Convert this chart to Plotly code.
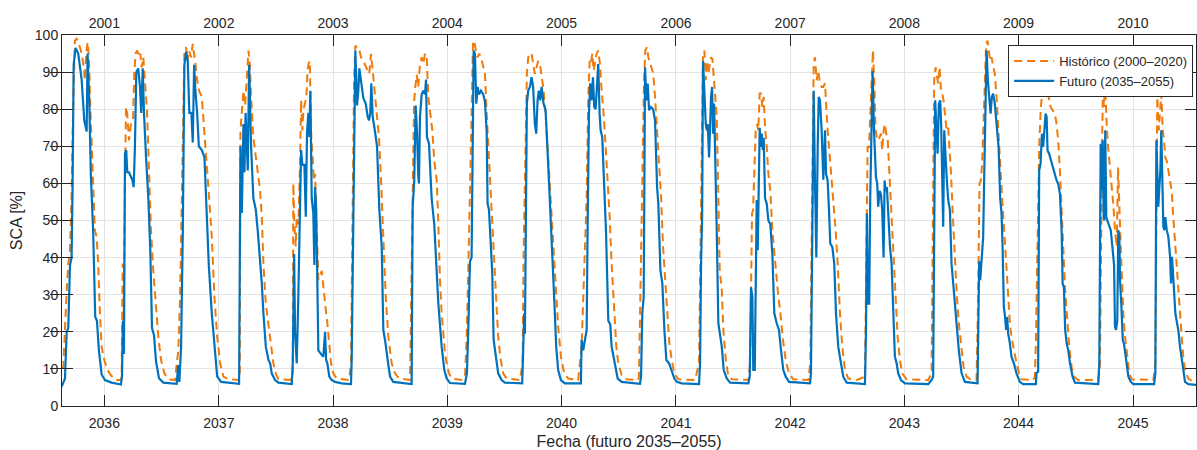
import numpy as np
import pandas as pd
import plotly.graph_objects as go

# ---------------- data (time in decimal years on the future time axis) ----------------
fut_t = [
    2035.626, 2035.640, 2035.655, 2035.670, 2035.684, 2035.699, 2035.713, 2035.722, 2035.731, 2035.748,
    2035.771, 2035.801, 2035.824, 2035.845, 2035.853, 2035.867, 2035.882, 2035.902, 2035.920, 2035.935,
    2035.952, 2035.976, 2036.005, 2036.063, 2036.145,
    2036.154, 2036.162, 2036.171, 2036.180, 2036.191, 2036.200, 2036.215, 2036.244, 2036.256, 2036.267,
    2036.279, 2036.296, 2036.311, 2036.322, 2036.335, 2036.346, 2036.364, 2036.384, 2036.401, 2036.416,
    2036.434, 2036.451, 2036.477, 2036.515, 2036.632,
    2036.644, 2036.655, 2036.670, 2036.685, 2036.699, 2036.714, 2036.728, 2036.742, 2036.760, 2036.772,
    2036.784, 2036.795, 2036.810, 2036.825, 2036.851, 2036.874, 2036.895, 2036.912, 2036.938, 2036.961,
    2036.985, 2037.020, 2037.177,
    2037.189, 2037.201, 2037.215, 2037.224, 2037.234, 2037.245, 2037.253, 2037.265, 2037.282, 2037.302,
    2037.323, 2037.341, 2037.361, 2037.376, 2037.390, 2037.411, 2037.434, 2037.449, 2037.463, 2037.492,
    2037.521, 2037.638,
    2037.647, 2037.659, 2037.667, 2037.682, 2037.696, 2037.711, 2037.720, 2037.731, 2037.749, 2037.761,
    2037.772, 2037.784, 2037.792, 2037.801, 2037.813, 2037.827, 2037.836, 2037.842, 2037.851, 2037.860,
    2037.871, 2037.895, 2037.915, 2037.930, 2037.939, 2037.950, 2037.967, 2037.988, 2038.017, 2038.076,
    2038.157,
    2038.163, 2038.175, 2038.186, 2038.195, 2038.210, 2038.221, 2038.230, 2038.245, 2038.265, 2038.286,
    2038.303, 2038.315, 2038.326, 2038.335, 2038.347, 2038.367, 2038.385, 2038.405, 2038.426, 2038.440,
    2038.455, 2038.478, 2038.499, 2038.527, 2038.688,
    2038.697, 2038.711, 2038.723, 2038.735, 2038.746, 2038.752, 2038.761, 2038.776, 2038.790, 2038.805,
    2038.814, 2038.822, 2038.840, 2038.863, 2038.886, 2038.907, 2038.921, 2038.951, 2038.974, 2038.995,
    2039.024, 2039.155,
    2039.161, 2039.172, 2039.184, 2039.199, 2039.213, 2039.222, 2039.231, 2039.242, 2039.254, 2039.266,
    2039.277, 2039.295, 2039.315, 2039.330, 2039.345, 2039.353, 2039.365, 2039.382, 2039.394, 2039.406,
    2039.423, 2039.446, 2039.476, 2039.505, 2039.656,
    2039.665, 2039.674, 2039.680, 2039.689, 2039.697, 2039.709, 2039.724, 2039.738, 2039.752, 2039.767,
    2039.779, 2039.791, 2039.802, 2039.814, 2039.826, 2039.843, 2039.861, 2039.884, 2039.905, 2039.919,
    2039.936, 2039.954, 2039.971, 2039.995, 2040.030, 2040.170,
    2040.176, 2040.190, 2040.205, 2040.220, 2040.228, 2040.240, 2040.251, 2040.263, 2040.275, 2040.286,
    2040.298, 2040.310, 2040.321, 2040.333, 2040.342, 2040.356, 2040.371, 2040.389, 2040.409, 2040.426,
    2040.438, 2040.467, 2040.491, 2040.526, 2040.686,
    2040.695, 2040.706, 2040.718, 2040.730, 2040.741, 2040.753, 2040.765, 2040.782, 2040.800, 2040.817,
    2040.835, 2040.846, 2040.864, 2040.881, 2040.899, 2040.916, 2040.940, 2040.963, 2040.986, 2041.007,
    2041.051, 2041.202,
    2041.211, 2041.220, 2041.229, 2041.237, 2041.249, 2041.261, 2041.270, 2041.278, 2041.290, 2041.299,
    2041.307, 2041.316, 2041.325, 2041.334, 2041.342, 2041.357, 2041.371, 2041.386, 2041.401, 2041.418,
    2041.445, 2041.474, 2041.634,
    2041.646, 2041.657, 2041.669, 2041.677, 2041.690, 2041.698, 2041.707, 2041.716, 2041.725, 2041.733,
    2041.742, 2041.751, 2041.760, 2041.768, 2041.780, 2041.795, 2041.809, 2041.826, 2041.844, 2041.861,
    2041.882, 2041.902, 2041.920, 2041.940, 2041.961, 2041.990, 2042.174,
    2042.182, 2042.194, 2042.206, 2042.217, 2042.229, 2042.241, 2042.250, 2042.261, 2042.276, 2042.290,
    2042.305, 2042.314, 2042.328, 2042.340, 2042.351, 2042.369, 2042.386, 2042.401, 2042.421, 2042.445,
    2042.465, 2042.495, 2042.655,
    2042.664, 2042.672, 2042.681, 2042.692, 2042.701, 2042.713, 2042.722, 2042.734, 2042.742, 2042.751,
    2042.762, 2042.771, 2042.783, 2042.795, 2042.806, 2042.818, 2042.827, 2042.836, 2042.847, 2042.859,
    2042.874, 2042.888, 2042.902, 2042.917, 2042.932, 2042.946, 2042.970, 2043.005, 2043.209, 2043.224,
    2043.238,
    2043.252, 2043.261, 2043.270, 2043.279, 2043.291, 2043.302, 2043.314, 2043.322, 2043.331, 2043.340,
    2043.349, 2043.361, 2043.372, 2043.384, 2043.399, 2043.413, 2043.436, 2043.457, 2043.477, 2043.501,
    2043.530, 2043.641,
    2043.646, 2043.655, 2043.664, 2043.676, 2043.690, 2043.699, 2043.711, 2043.720, 2043.731, 2043.742,
    2043.755, 2043.766, 2043.777, 2043.792, 2043.810, 2043.825, 2043.839, 2043.851, 2043.860, 2043.871,
    2043.882, 2043.891, 2043.900, 2043.909, 2043.924, 2043.938, 2043.959, 2043.982, 2044.011, 2044.040,
    2044.151,
    2044.157, 2044.171, 2044.180, 2044.192, 2044.204, 2044.215, 2044.224, 2044.236, 2044.245, 2044.253,
    2044.267, 2044.282, 2044.297, 2044.317, 2044.332, 2044.346, 2044.361, 2044.376, 2044.385, 2044.396,
    2044.407, 2044.420, 2044.434, 2044.449, 2044.472, 2044.492, 2044.696,
    2044.705, 2044.717, 2044.726, 2044.735, 2044.743, 2044.749, 2044.757, 2044.766, 2044.775, 2044.787,
    2044.805, 2044.819, 2044.834, 2044.842, 2044.851, 2044.862, 2044.871, 2044.880, 2044.886, 2044.897,
    2044.910, 2044.921, 2044.939, 2044.959, 2044.980, 2045.002, 2045.184,
    2045.195, 2045.204, 2045.212, 2045.221, 2045.230, 2045.239, 2045.247, 2045.256, 2045.265, 2045.274,
    2045.282, 2045.295, 2045.309, 2045.324, 2045.332, 2045.341, 2045.350, 2045.359, 2045.370, 2045.382,
    2045.396, 2045.411, 2045.426, 2045.440, 2045.455, 2045.484, 2045.557,
]
fut_v = [
    5.2, 6.5, 7.4, 20, 21, 38, 40, 60, 92, 96.5,
    95, 88, 77, 74, 95, 83, 62, 47, 24, 23,
    15, 8.5, 7, 6.3, 5.8,
    8, 23, 14, 68, 69, 63, 63, 61, 59, 70,
    90, 91, 86, 79, 91, 79, 67, 56, 42, 21,
    19, 12, 7.5, 6.3, 6.0,
    11, 6.5, 16, 47, 92, 95.5, 93, 79, 79, 71,
    92, 85, 79, 70, 69, 67, 52, 38, 25, 16,
    8, 6.5, 6.0,
    70, 52, 76, 63, 79, 71.6, 63.5, 92, 70, 56,
    53, 47, 40, 33, 25, 16, 12.4, 11.5, 8.8, 7,
    6.3, 5.9,
    11.5, 41, 20, 11.5, 30, 56, 69, 65, 65, 51,
    74, 79, 72.5, 85, 56, 52, 38, 59, 54, 38,
    15, 14, 13.3, 20, 12.4, 11.5, 7.9, 7, 6.5, 6.1,
    5.9,
    12.4, 43, 74, 95.8, 81, 85, 91, 88, 83, 81.5,
    78, 77, 79, 87, 78, 74, 70, 53, 43, 20.5,
    17.8, 12.4, 7.9, 6.5, 5.9,
    53.6, 61, 81, 74, 62, 60, 78, 84, 85, 84,
    88, 72.5, 70.7, 56, 49, 38, 28, 16, 9.7, 7.4,
    6.2, 6.0,
    7.4, 8.8, 20.5, 39, 40, 74, 95.8, 95, 81.5, 86,
    84, 85, 84, 82, 74, 54.5, 53, 43, 35.7, 17.8,
    14, 8.8, 7, 6.3, 6.1,
    20.5, 25, 19.5, 61, 81.5, 85, 86, 88.6, 86, 76,
    73.4, 82.4, 85, 82.4, 86, 81.5, 79.7, 65, 52, 43,
    29.4, 16, 9.7, 7, 6.1, 6.1,
    17.8, 15, 17.8, 20.5, 47, 78.8, 87, 82.4, 88.6, 80.6,
    80, 87.8, 92.2, 78.8, 74.3, 72.5, 61, 47, 23, 22,
    16, 11.5, 7.4, 6.5, 6.0,
    7.9, 25, 29.4, 91.3, 82.4, 86.9, 79.7, 80.6, 80, 77,
    59, 54.5, 36.6, 33, 20.5, 12.4, 11.5, 9.2, 7.4, 6.5,
    6.1, 5.9,
    11.5, 39, 51, 93, 83.3, 76, 74.3, 76, 67, 76,
    83.3, 86, 73.4, 81.5, 65, 47, 22.3, 19.5, 16, 9.7,
    7.4, 6.3, 6.1,
    7.9, 32, 29.4, 9.7, 9.7, 40, 55.5, 42, 62.6, 75,
    69.8, 73.4, 69, 72.3, 56, 54.5, 50, 49, 41, 25,
    22.3, 20.5, 15, 9.7, 7.9, 6.5, 6.1,
    8.8, 47, 85, 61, 40, 69.8, 83.3, 82.4, 74, 61,
    74.3, 62.6, 60.8, 52.8, 43.8, 42.9, 38.4, 25, 16, 11.5,
    7.9, 6.3, 5.9,
    20.5, 51.9, 27.6, 27.6, 56.3, 81.5, 90.3, 74.3, 65.3, 61.7,
    60, 53.7, 58, 57, 52.8, 40, 60.8, 58, 59, 51,
    43, 38.4, 26.7, 13.3, 11.5, 8.8, 7, 6.1, 5.9, 6.5,
    7,
    7.9, 47.4, 82.4, 76, 68, 81.5, 82.4, 76, 65.3, 48.3,
    74.3, 65.3, 60.8, 55.5, 52.8, 38.4, 29.4, 20.5, 15, 8.8,
    6.5, 6.1,
    20.5, 39, 33.9, 40, 45.5, 61.7, 87.8, 95.8, 87.8, 83.3,
    78.8, 83.3, 84.2, 81.5, 76, 69.8, 56, 51.9, 42.9, 26.7,
    24, 20.5, 24, 19.5, 16.9, 13.3, 11.5, 8.8, 6.5, 5.9,
    5.9,
    9, 9.2, 63.5, 65.3, 73.4, 69.8, 74.3, 78.8, 77.9, 68.9,
    68, 66.2, 64.4, 62.6, 60.8, 59.9, 57.2, 47.4, 33, 32,
    20.5, 16.9, 15, 11.5, 7.9, 6.3, 5.9,
    11.5, 70.7, 58, 71.6, 51, 50, 74.3, 51, 50, 49,
    47.4, 43, 38, 21.4, 20.5, 23, 47.4, 45.6, 33.9, 27.6,
    17.8, 16.7, 12.4, 7.9, 6.5, 5.9, 5.9,
    8.8, 71.6, 65.3, 53.7, 59, 63.5, 74.3, 63.5, 48.3, 47.4,
    50.9, 47.4, 45.6, 40.2, 33, 40.2, 33, 31, 25, 23,
    20.5, 16, 12.4, 8.8, 6.5, 5.9, 5.7,
]

hist_t = [
    2035.631, 2035.640, 2035.670, 2035.684, 2035.699, 2035.713, 2035.722, 2035.734, 2035.742, 2035.757,
    2035.777, 2035.801, 2035.815, 2035.830, 2035.841, 2035.853, 2035.865, 2035.876, 2035.888, 2035.902,
    2035.917, 2035.932, 2035.946, 2035.961, 2035.976, 2035.999, 2036.028, 2036.057, 2036.107, 2036.145,
    2036.151, 2036.160, 2036.168, 2036.180, 2036.189, 2036.200, 2036.215, 2036.232, 2036.250, 2036.261,
    2036.273, 2036.287, 2036.302, 2036.314, 2036.326, 2036.340, 2036.355, 2036.372, 2036.390, 2036.407,
    2036.427, 2036.448, 2036.471, 2036.495, 2036.524, 2036.559, 2036.617,
    2036.632, 2036.646, 2036.661, 2036.676, 2036.687, 2036.699, 2036.714, 2036.725, 2036.740, 2036.757,
    2036.772, 2036.784, 2036.795, 2036.810, 2036.827, 2036.851, 2036.874, 2036.895, 2036.915, 2036.938,
    2036.961, 2036.985, 2037.011, 2037.040, 2037.084, 2037.171,
    2037.183, 2037.189, 2037.201, 2037.215, 2037.230, 2037.245, 2037.259, 2037.271, 2037.282, 2037.302,
    2037.323, 2037.341, 2037.361, 2037.376, 2037.390, 2037.411, 2037.434, 2037.457, 2037.477, 2037.498,
    2037.521, 2037.624,
    2037.647, 2037.652, 2037.661, 2037.673, 2037.682, 2037.696, 2037.711, 2037.720, 2037.731, 2037.740,
    2037.755, 2037.766, 2037.775, 2037.784, 2037.796, 2037.807, 2037.819, 2037.831, 2037.842, 2037.857,
    2037.871, 2037.901, 2037.921, 2037.936, 2037.950, 2037.965, 2037.982, 2038.002, 2038.032, 2038.140,
    2038.157, 2038.166, 2038.175, 2038.184, 2038.195, 2038.210, 2038.227, 2038.245, 2038.265, 2038.286,
    2038.303, 2038.317, 2038.332, 2038.347, 2038.361, 2038.382, 2038.402, 2038.420, 2038.440, 2038.461,
    2038.484, 2038.513, 2038.542, 2038.577, 2038.674,
    2038.688, 2038.697, 2038.709, 2038.720, 2038.732, 2038.746, 2038.761, 2038.776, 2038.790, 2038.805,
    2038.820, 2038.834, 2038.851, 2038.869, 2038.886, 2038.907, 2038.921, 2038.927, 2038.936, 2038.951,
    2038.965, 2038.980, 2038.995, 2039.015, 2039.038, 2039.126,
    2039.155, 2039.170, 2039.184, 2039.199, 2039.213, 2039.225, 2039.236, 2039.251, 2039.266, 2039.280,
    2039.295, 2039.310, 2039.330, 2039.345, 2039.359, 2039.374, 2039.388, 2039.402, 2039.417, 2039.432,
    2039.446, 2039.464, 2039.490, 2039.520, 2039.636,
    2039.660, 2039.668, 2039.677, 2039.686, 2039.697, 2039.709, 2039.724, 2039.738, 2039.752, 2039.767,
    2039.782, 2039.796, 2039.811, 2039.826, 2039.840, 2039.861, 2039.884, 2039.905, 2039.927, 2039.948,
    2039.971, 2039.995, 2040.024, 2040.059, 2040.146,
    2040.176, 2040.190, 2040.205, 2040.220, 2040.234, 2040.246, 2040.257, 2040.269, 2040.281, 2040.292,
    2040.307, 2040.321, 2040.336, 2040.351, 2040.368, 2040.386, 2040.403, 2040.421, 2040.438, 2040.459,
    2040.479, 2040.496, 2040.526, 2040.570, 2040.669,
    2040.677, 2040.689, 2040.701, 2040.710, 2040.721, 2040.732, 2040.745, 2040.759, 2040.774, 2040.802,
    2040.817, 2040.835, 2040.852, 2040.870, 2040.887, 2040.905, 2040.925, 2040.942, 2040.963, 2040.986,
    2041.021, 2041.167,
    2041.202, 2041.214, 2041.226, 2041.237, 2041.249, 2041.261, 2041.272, 2041.284, 2041.296, 2041.307,
    2041.319, 2041.331, 2041.342, 2041.357, 2041.371, 2041.383, 2041.401, 2041.415, 2041.436, 2041.459,
    2041.488, 2041.634,
    2041.649, 2041.657, 2041.666, 2041.675, 2041.686, 2041.698, 2041.710, 2041.721, 2041.733, 2041.745,
    2041.756, 2041.768, 2041.780, 2041.795, 2041.809, 2041.826, 2041.844, 2041.867, 2041.891, 2041.914,
    2041.937, 2041.961, 2041.990, 2042.027, 2042.159,
    2042.176, 2042.188, 2042.197, 2042.206, 2042.217, 2042.232, 2042.246, 2042.261, 2042.276, 2042.290,
    2042.305, 2042.316, 2042.328, 2042.340, 2042.357, 2042.377, 2042.398, 2042.416, 2042.436, 2042.456,
    2042.480, 2042.509, 2042.582,
    2042.655, 2042.666, 2042.678, 2042.690, 2042.701, 2042.713, 2042.725, 2042.736, 2042.748, 2042.760,
    2042.771, 2042.783, 2042.795, 2042.806, 2042.818, 2042.830, 2042.841, 2042.853, 2042.865, 2042.876,
    2042.888, 2042.906, 2042.923, 2042.941, 2042.961, 2042.981, 2043.020, 2043.209,
    2043.238, 2043.250, 2043.261, 2043.273, 2043.285, 2043.296, 2043.308, 2043.320, 2043.331, 2043.343,
    2043.355, 2043.370, 2043.384, 2043.396, 2043.407, 2043.425, 2043.442, 2043.460, 2043.477, 2043.501,
    2043.518, 2043.545, 2043.588, 2043.632,
    2043.646, 2043.658, 2043.670, 2043.681, 2043.693, 2043.705, 2043.716, 2043.728, 2043.740, 2043.751,
    2043.763, 2043.777, 2043.792, 2043.807, 2043.821, 2043.839, 2043.856, 2043.874, 2043.886, 2043.895,
    2043.909, 2043.924, 2043.938, 2043.959, 2043.982, 2044.005, 2044.026, 2044.127,
    2044.142, 2044.151, 2044.162, 2044.171, 2044.180, 2044.192, 2044.204, 2044.215, 2044.227, 2044.239,
    2044.250, 2044.262, 2044.280, 2044.297, 2044.317, 2044.332, 2044.346, 2044.361, 2044.376, 2044.390,
    2044.407, 2044.425, 2044.442, 2044.463, 2044.484, 2044.521, 2044.696,
    2044.711, 2044.720, 2044.729, 2044.737, 2044.746, 2044.755, 2044.764, 2044.772, 2044.784, 2044.799,
    2044.816, 2044.827, 2044.842, 2044.857, 2044.869, 2044.880, 2044.892, 2044.904, 2044.915, 2044.930,
    2044.945, 2044.967, 2044.988, 2045.177,
    2045.195, 2045.204, 2045.212, 2045.225, 2045.236, 2045.247, 2045.260, 2045.271, 2045.282, 2045.295,
    2045.309, 2045.324, 2045.338, 2045.352, 2045.367, 2045.382, 2045.396, 2045.411, 2045.426, 2045.440,
    2045.455, 2045.484, 2045.513,
]
hist_v = [
    10.1, 10.5, 31, 38.4, 42, 56.3, 74.3, 92.2, 98.5, 99,
    97.6, 95, 92.2, 87.8, 95, 98, 94, 81.5, 70, 56.3,
    47.4, 45.6, 38.4, 25, 16, 12.4, 9.7, 8.3, 7, 7,
    7.9, 38.4, 22, 60.8, 80.6, 78.8, 71.6, 76, 77, 89.5,
    95, 95.8, 94, 95, 91.3, 94, 86.9, 79.7, 63.5, 47.4,
    36.6, 26.7, 18.7, 12.4, 8.8, 7.2, 7,
    11.5, 15, 29, 60.8, 83.3, 95.8, 96.7, 93, 95.8, 94,
    97.6, 95, 92.2, 87.8, 85, 83.3, 74.3, 65.3, 56, 45.6,
    29.4, 18.7, 11.5, 7.9, 7.2, 7,
    7.9, 74.3, 80.6, 85, 81, 88, 95.8, 92.2, 83.3, 72.5,
    67, 63.5, 58, 51, 38.4, 27.6, 22.3, 16, 11.5, 8.8,
    7.2, 7,
    8, 60, 49, 43, 51, 49, 65.3, 82.4, 74.3, 79.7,
    81.5, 83.3, 89.5, 92.2, 93, 74.3, 68, 60.8, 62.6, 47.4,
    34, 36.4, 29.4, 25.9, 22.3, 16.9, 11.5, 8.8, 7.4, 7,
    11.5, 38.4, 65.3, 87.8, 97.2, 96.3, 96.3, 94, 93, 91.3,
    90.4, 89.5, 94.9, 90.4, 86, 78.8, 72.5, 60.8, 47.4, 29.4,
    18.7, 11.5, 8.8, 7.4, 7,
    33.9, 56, 81.5, 86, 89.3, 86, 92.2, 94, 92.2, 95,
    94, 83.3, 79, 74.3, 66, 61, 50, 43, 34, 25,
    18.7, 14.2, 11.5, 8.8, 7.4, 7,
    7.9, 18.7, 36.6, 54.5, 78.8, 97.6, 98.5, 95.8, 94, 95,
    94, 92.2, 89.5, 78.8, 69.8, 60.8, 53.7, 45.6, 35.7, 26.7,
    18.7, 13.3, 8.8, 7.4, 7,
    11.5, 40.2, 56, 74.3, 89.5, 94, 95, 95, 92.2, 89.5,
    91.3, 93, 92.2, 89.5, 86, 78.8, 67, 54.5, 43, 31.2,
    21.4, 13.3, 8.8, 7.4, 7,
    16, 29.4, 38.4, 56.3, 83.3, 93, 92.2, 95, 90.4, 93,
    95, 95.8, 92.2, 85, 78.8, 69.8, 60.8, 51, 38.4, 25,
    16, 11.5, 8.3, 7.2, 7,
    7.9, 29.4, 47.4, 69.8, 87.8, 95.8, 96.7, 94, 92.2, 89.5,
    83.3, 74.3, 63.5, 56.3, 43, 33.9, 22.3, 16.9, 12.4, 8.8,
    7.2, 7,
    11.5, 38.4, 74.3, 95, 95.8, 87.8, 93, 89.5, 92.2, 94,
    93.5, 87.8, 83.3, 78, 56.3, 36.6, 31.2, 20.5, 12.4, 7.9,
    7.2, 7,
    11.5, 40.2, 51.9, 52.8, 63.5, 74.3, 76, 74.3, 84.2, 84.2,
    80.6, 83.3, 75, 69.8, 62.6, 58, 47.4, 38.4, 31.2, 25,
    17.8, 12.4, 8.8, 7.2, 7,
    11.5, 47.4, 74.3, 92.2, 94, 87.8, 90.4, 86.9, 86, 86,
    87, 79.7, 74.3, 69.8, 63.5, 56.3, 47.4, 38.4, 25, 16,
    9.7, 7.4, 7,
    7.9, 45.6, 69.8, 69.8, 78.8, 87.8, 95.8, 87.8, 74.3, 72.5,
    71.6, 72.5, 73.4, 68.9, 74.3, 76, 73.4, 72.5, 65.3, 58,
    49, 38.4, 27.6, 18.7, 12.4, 8.8, 7.2, 7,
    8.8, 47.4, 87.8, 91.3, 89.5, 86.9, 91.3, 85.6, 84.2, 82.4,
    78.8, 74.3, 75, 69.8, 63.5, 51, 38.4, 29.4, 22.3, 15,
    10.6, 7.9, 7, 7,
    29.4, 60, 60.8, 65.3, 78, 92.2, 97.6, 98.5, 95.8, 93,
    94, 92.2, 89.5, 83.3, 74.3, 65.3, 56.3, 47.4, 42, 38.4,
    29.4, 22.3, 18.7, 15, 11.5, 8.8, 7.2, 7,
    7.9, 16.9, 38.4, 56.3, 69.8, 78.8, 84.2, 84.2, 85, 84.2,
    85, 83.3, 80.6, 79.7, 78.8, 76, 71.6, 63.5, 54.5, 42.9,
    31.2, 22.3, 16, 10.6, 7.9, 7, 7,
    11.5, 47.4, 69.8, 85, 80.6, 86.9, 78.8, 74.3, 69, 64.3,
    58, 54.5, 47.4, 43, 64.3, 56.3, 42.9, 33.9, 25, 18.7,
    14.2, 8.8, 7.2, 7,
    11.5, 56.3, 83.3, 74.3, 78.8, 84.2, 74.3, 71.6, 67, 66,
    63.5, 60, 58, 51, 43.8, 38.4, 31.2, 25, 18.7, 13.3,
    9.7, 7.4, 6.8,
]

bottom_years = [2036, 2037, 2038, 2039, 2040, 2041, 2042, 2043, 2044, 2045]
top_labels = ["2001", "2002", "2003", "2004", "2005", "2006", "2007", "2008", "2009", "2010"]
x_limits = [2035.629, 2045.551]
y_ticks = [0, 10, 20, 30, 40, 50, 60, 70, 80, 90, 100]


def dec_to_dt(t):
    y = int(np.floor(t))
    start = pd.Timestamp(year=y, month=1, day=1)
    end = pd.Timestamp(year=y + 1, month=1, day=1)
    return start + (t - y) * (end - start)


fut_x = [dec_to_dt(t) for t in fut_t]
hist_x = [dec_to_dt(t) for t in hist_t]
xr = [dec_to_dt(t) for t in x_limits]
tick_dates = [pd.Timestamp(year=y, month=1, day=1) for y in bottom_years]

BLUE = "#0072BD"
ORANGE = "#F07A0A"
AX = "#262626"
GRID = "#e3e3e3"
FONT = "Liberation Sans, Arial, Helvetica, sans-serif"

fig = go.Figure()
fig.add_trace(go.Scatter(x=hist_x, y=hist_v, mode="lines", name="Histórico (2000–2020)",
                         line=dict(color=ORANGE, width=2, dash="8px,5px")))
fig.add_trace(go.Scatter(x=fut_x, y=fut_v, mode="lines", name="Futuro (2035–2055)",
                         line=dict(color=BLUE, width=2.2)))
# empty trace that only anchors the top (historical-years) axis
fig.add_trace(go.Scatter(x=xr, y=[None, None], xaxis="x2", yaxis="y", mode="lines",
                         showlegend=False, hoverinfo="skip"))

fig.update_layout(
    width=1197, height=450,
    margin=dict(l=62, r=1, t=35, b=44),
    paper_bgcolor="white", plot_bgcolor="white",
    font=dict(family=FONT, size=14, color=AX),
    showlegend=True,
    legend=dict(x=0.9975, y=0.973, xanchor="right", yanchor="top",
                bgcolor="white", bordercolor=AX, borderwidth=1,
                font=dict(size=13, color=AX), tracegroupgap=0,
                itemwidth=40),
    xaxis=dict(type="date", range=xr, tickvals=tick_dates, ticktext=[str(y) for y in bottom_years],
               ticks="inside", ticklen=11, tickwidth=1, tickcolor=AX, ticklabelstandoff=4,
               showline=True, linecolor=AX, linewidth=1, mirror=True,
               showgrid=True, gridcolor=GRID, gridwidth=1, zeroline=False,
               title=dict(text="Fecha (futuro 2035–2055)", font=dict(size=16), standoff=8),
               tickfont=dict(size=14)),
    xaxis2=dict(type="date", range=xr, overlaying="x", side="top", anchor="y",
                tickvals=tick_dates, ticktext=top_labels, ticklabelstandoff=3,
                ticks="inside", ticklen=11, tickwidth=1, tickcolor=AX,
                showline=False, showgrid=False, zeroline=False,
                tickfont=dict(size=14)),
    yaxis=dict(range=[0, 100], tickvals=y_ticks, ticks="inside", ticklen=11, tickwidth=1, tickcolor=AX,
               showline=True, linecolor=AX, linewidth=1, mirror="allticks",
               showgrid=True, gridcolor=GRID, gridwidth=1, zeroline=False,
               title=dict(text="SCA [%]", font=dict(size=16), standoff=8),
               tickfont=dict(size=14)),
)

fig.write_html("out.html")
